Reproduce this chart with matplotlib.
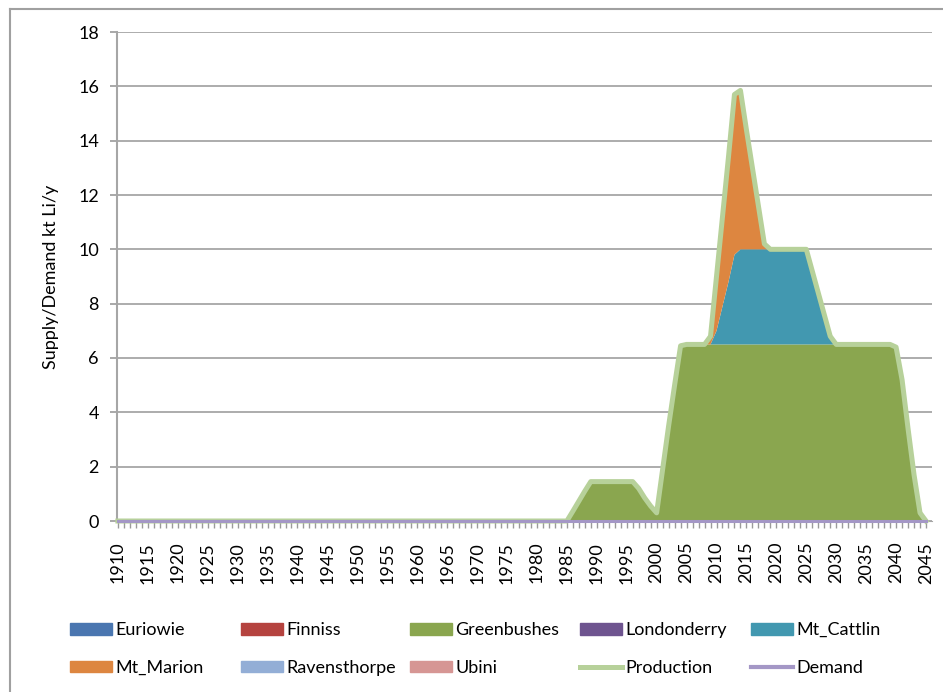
import numpy as np
import matplotlib.pyplot as plt
from matplotlib.lines import Line2D
from matplotlib.patches import Patch

plt.rcParams['font.family'] = ['Lato', 'DejaVu Sans']

# --- data (kt Li per year) ---------------------------------------------------
years = np.arange(1910, 2046)
first_active = 1984   # everything before this year is zero

greenbushes_active = [
    0, 0, 0.36, 0.73, 1.1, 1.45, 1.45, 1.45, 1.45, 1.45,       # 1984-1993
    1.45, 1.45, 1.45, 1.2, 0.85, 0.55, 0.3, 1.9, 3.5, 5.0,      # 1994-2003
    6.45, 6.5, 6.5, 6.5, 6.5, 6.5, 6.5, 6.5, 6.5, 6.5,          # 2004-2013
    6.5, 6.5, 6.5, 6.5, 6.5, 6.5, 6.5, 6.5, 6.5, 6.5,           # 2014-2023
    6.5, 6.5, 6.5, 6.5, 6.5, 6.5, 6.5, 6.5, 6.5, 6.5,           # 2024-2033
    6.5, 6.5, 6.5, 6.5, 6.5, 6.5, 6.4, 5.2, 3.4, 1.7,           # 2034-2043
    0.3, 0,                                                     # 2044-2045
]
mt_cattlin_active = [
    0, 0, 0, 0, 0, 0, 0, 0, 0, 0,
    0, 0, 0, 0, 0, 0, 0, 0, 0, 0,
    0, 0, 0, 0, 0, 0, 0.5, 1.4, 2.3, 3.3,                       # 2004-2013
    3.5, 3.5, 3.5, 3.5, 3.5, 3.5, 3.5, 3.5, 3.5, 3.5,           # 2014-2023
    3.5, 3.5, 2.7, 1.9, 1.1, 0.3, 0, 0, 0, 0,                   # 2024-2033
    0, 0, 0, 0, 0, 0, 0, 0, 0, 0,
    0, 0,
]
mt_marion_active = [
    0, 0, 0, 0, 0, 0, 0, 0, 0, 0,
    0, 0, 0, 0, 0, 0, 0, 0, 0, 0,
    0, 0, 0, 0, 0, 0.3, 2.0, 3.3, 4.6, 5.9,                     # 2004-2013
    5.85, 4.4, 3.0, 1.6, 0.2, 0, 0, 0, 0, 0,                    # 2014-2023
    0, 0, 0, 0, 0, 0, 0, 0, 0, 0,
    0, 0, 0, 0, 0, 0, 0, 0, 0, 0,
    0, 0,
]

def full_series(active):
    out = np.zeros(len(years))
    out[years >= first_active] = active
    return out

euriowie = np.zeros(len(years))
finniss = np.zeros(len(years))
greenbushes = full_series(greenbushes_active)
londonderry = np.zeros(len(years))
mt_cattlin = full_series(mt_cattlin_active)
mt_marion = full_series(mt_marion_active)
ravensthorpe = np.zeros(len(years))
ubini = np.zeros(len(years))
demand = np.zeros(len(years))

mines = ["Euriowie", "Finniss", "Greenbushes", "Londonderry", "Mt_Cattlin",
         "Mt_Marion", "Ravensthorpe", "Ubini"]
mine_series = [euriowie, finniss, greenbushes, londonderry, mt_cattlin,
               mt_marion, ravensthorpe, ubini]
mine_colors = ["#4A76B0", "#B5433F", "#8AA64F", "#6E548F", "#4298B0",
               "#DD8640", "#93AED6", "#D69694"]
production = np.sum(mine_series, axis=0)
production_color = "#B7D19A"
demand_color = "#A497C6"

# --- figure ---------------------------------------------------------------
W, H = 943, 692
fig = plt.figure(figsize=(W / 100, H / 100), dpi=100)
ax = fig.add_axes([117 / W, 1 - 521 / H, (932 - 117) / W, (521 - 32) / H])

ax.stackplot(years, *mine_series, colors=mine_colors, linewidth=0, zorder=2)
ax.plot(years, production, color=production_color, lw=3.6,
        solid_joinstyle='round', clip_on=False, zorder=3)
ax.plot(years, demand, color=demand_color, lw=2.2, clip_on=False, zorder=4)

ax.set_xlim(1909.85, 2046.0)
ax.set_ylim(0, 18)
ax.set_yticks(np.arange(0, 19, 2))
ax.set_xticks(np.arange(1910, 2046, 5))
ax.set_xticks(years, minor=True)
ax.tick_params(axis='x', which='both', direction='out', length=5,
               color='#9A9A9A', width=1, labelrotation=90, pad=10,
               labelsize=13)
ax.tick_params(axis='y', direction='out', length=5, color='#9A9A9A',
               width=1.2, pad=8, labelsize=13)

ax.yaxis.grid(True, color='#A6A6A6', lw=1.3, zorder=0)
ax.set_axisbelow(True)
for side in ('top', 'right'):
    ax.spines[side].set_visible(False)
ax.spines['left'].set_color('#A6A6A6')
ax.spines['left'].set_linewidth(1.5)
ax.spines['bottom'].set_color('#A6A6A6')

ax.set_ylabel("Supply/Demand kt Li/y", fontsize=13, labelpad=14)

# --- legend: five columns of two entries -------------------------------------
handles = [Patch(facecolor=c, edgecolor=c) for c in mine_colors]
handles += [Line2D([], [], color=production_color, lw=3.6),
            Line2D([], [], color=demand_color, lw=3.0)]
labels = mines + ["Production", "Demand"]
order = [(0, 5), (1, 6), (2, 7), (3, 8), (4, 9)]
col_x = [70, 241, 410, 580, 751]
for (i, j), x in zip(order, col_x):
    leg = fig.legend([handles[i], handles[j]], [labels[i], labels[j]],
                     loc='center left', bbox_to_anchor=(x / W, 1 - 649 / H),
                     frameon=False, fontsize=13, handlelength=2.3,
                     handleheight=0.6, handletextpad=0.2, labelspacing=1.2,
                     borderpad=0, borderaxespad=0)

# chart border
fig.add_artist(Line2D([10 / W, 10 / W], [0, 1 - 9 / H], color='#A0A0A0',
                      lw=1.5, transform=fig.transFigure))
fig.add_artist(Line2D([10 / W, 1], [1 - 9 / H, 1 - 9 / H], color='#A0A0A0',
                      lw=1.5, transform=fig.transFigure))

fig.savefig("out.png", dpi=100)
